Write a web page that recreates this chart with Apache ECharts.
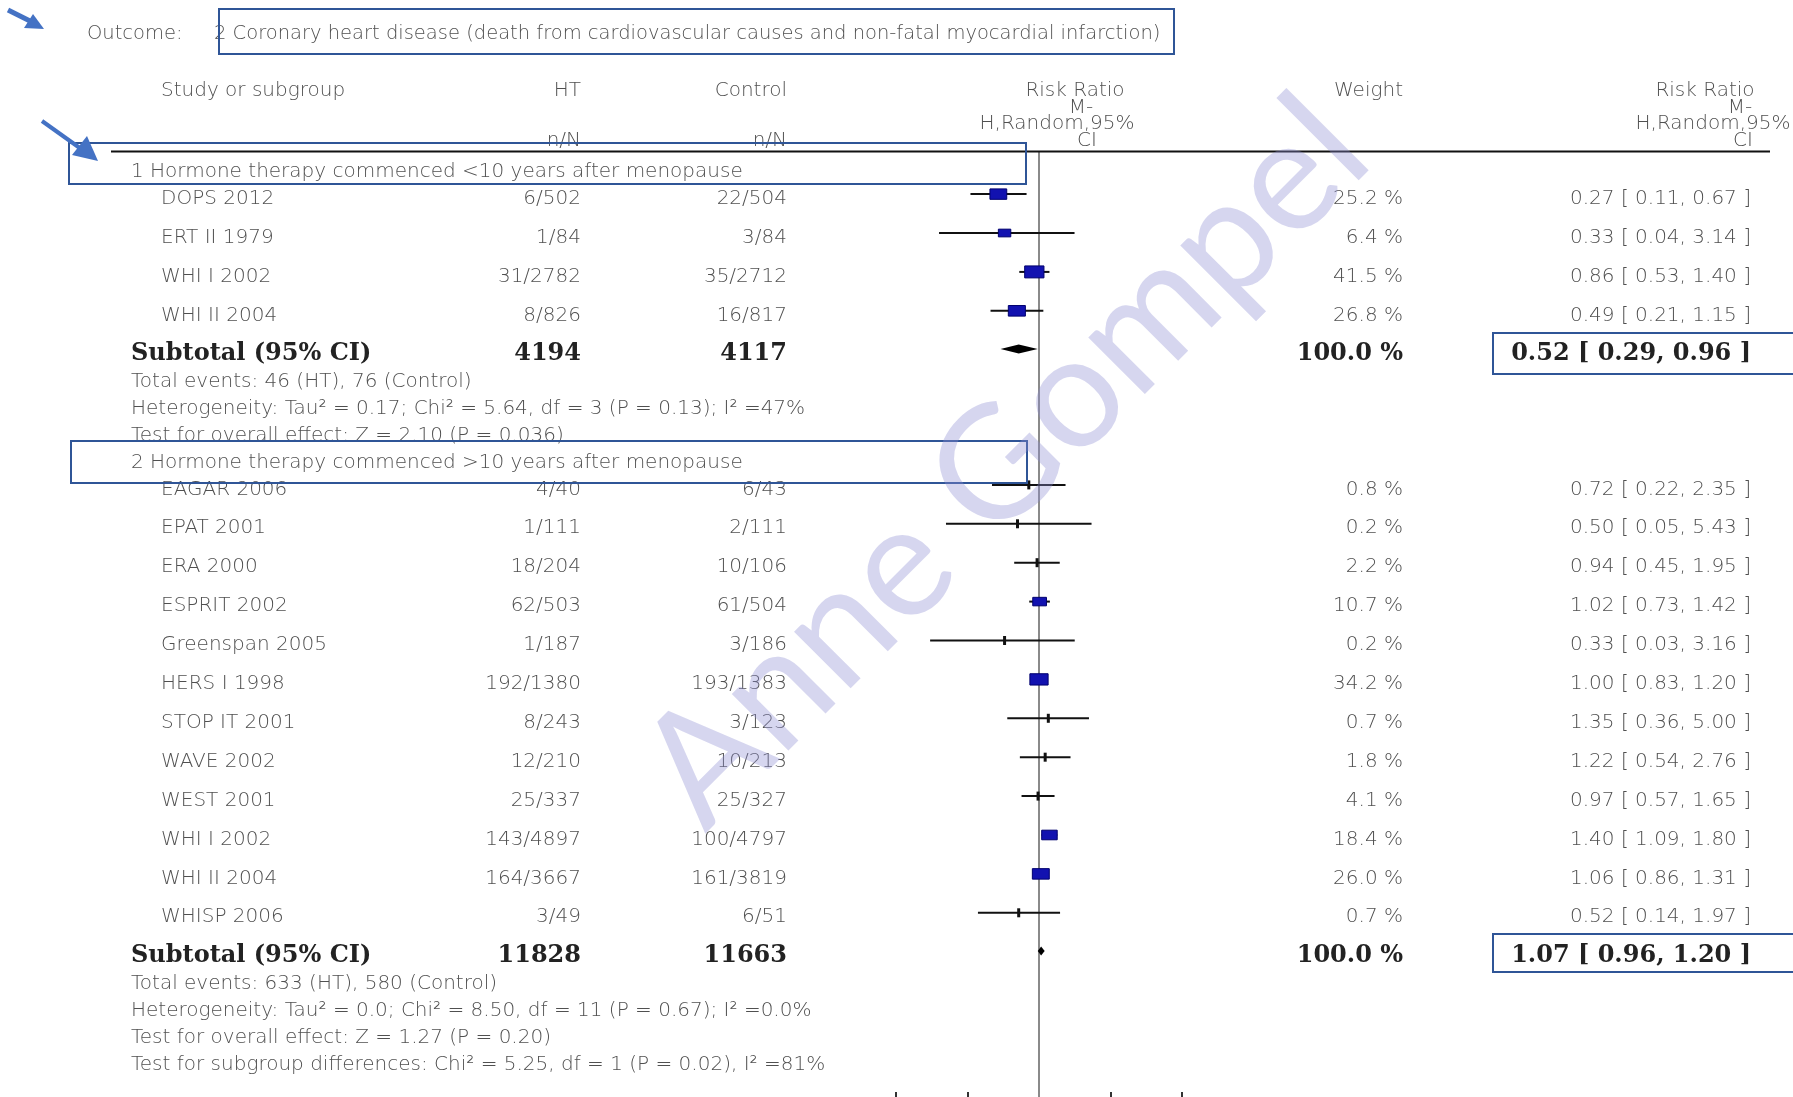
<!DOCTYPE html>
<html>
<head>
<meta charset="utf-8">
<title>Coronary heart disease - forest plot</title>
<script src="https://cdn.jsdelivr.net/npm/echarts@6/dist/echarts.min.js"></script>
<style>
  html, body { margin: 0; padding: 0; background: #fff; }
  #main { width: 1793px; height: 1097px; }
</style>
</head>
<body>
<div id="main"></div>
<script type="text/javascript">
// ---- data ----
var outcomeLabel = 'Outcome:';
var outcomeText = '2 Coronary heart disease (death from cardiovascular causes and non-fatal myocardial infarction)';

var group1Label = '1 Hormone therapy commenced <10 years after menopause';
var studies1 = ['DOPS 2012', 'ERT II 1979', 'WHI I 2002', 'WHI II 2004'];
var ht1 = ['6/502', '1/84', '31/2782', '8/826'];
var ctl1 = ['22/504', '3/84', '35/2712', '16/817'];
var weight1 = [25.2, 6.4, 41.5, 26.8];
var rr1 = [0.27, 0.33, 0.86, 0.49];
var lo1 = [0.11, 0.04, 0.53, 0.21];
var hi1 = [0.67, 3.14, 1.40, 1.15];
var sub1 = { ht: '4194', ctl: '4117', weight: 100.0, rr: 0.52, lo: 0.29, hi: 0.96 };
var notes1 = [
  'Total events: 46 (HT), 76 (Control)',
  'Heterogeneity: Tau\u00b2 = 0.17; Chi\u00b2 = 5.64, df = 3 (P = 0.13); I\u00b2 =47%',
  'Test for overall effect: Z = 2.10 (P = 0.036)'
];

var group2Label = '2 Hormone therapy commenced >10 years after menopause';
var studies2 = ['EAGAR 2006', 'EPAT 2001', 'ERA 2000', 'ESPRIT 2002', 'Greenspan 2005', 'HERS I 1998',
  'STOP IT 2001', 'WAVE 2002', 'WEST 2001', 'WHI I 2002', 'WHI II 2004', 'WHISP 2006'];
var ht2 = ['4/40', '1/111', '18/204', '62/503', '1/187', '192/1380', '8/243', '12/210', '25/337', '143/4897', '164/3667', '3/49'];
var ctl2 = ['6/43', '2/111', '10/106', '61/504', '3/186', '193/1383', '3/123', '10/213', '25/327', '100/4797', '161/3819', '6/51'];
var weight2 = [0.8, 0.2, 2.2, 10.7, 0.2, 34.2, 0.7, 1.8, 4.1, 18.4, 26.0, 0.7];
var rr2 = [0.72, 0.50, 0.94, 1.02, 0.33, 1.00, 1.35, 1.22, 0.97, 1.40, 1.06, 0.52];
var lo2 = [0.22, 0.05, 0.45, 0.73, 0.03, 0.83, 0.36, 0.54, 0.57, 1.09, 0.86, 0.14];
var hi2 = [2.35, 5.43, 1.95, 1.42, 3.16, 1.20, 5.00, 2.76, 1.65, 1.80, 1.31, 1.97];
var sub2 = { ht: '11828', ctl: '11663', weight: 100.0, rr: 1.07, lo: 0.96, hi: 1.20 };
var notes2 = [
  'Total events: 633 (HT), 580 (Control)',
  'Heterogeneity: Tau\u00b2 = 0.0; Chi\u00b2 = 8.50, df = 11 (P = 0.67); I\u00b2 =0.0%',
  'Test for overall effect: Z = 1.27 (P = 0.20)',
  'Test for subgroup differences: Chi\u00b2 = 5.25, df = 1 (P = 0.02), I\u00b2 =81%'
];

// ---- layout ----
var W = 1793, H = 1097;
var U = 38.9;              // px per study row
var YMAX = H / U;
var X_LEFT = 131, X_STUDY = 161, X_HT = 581, X_CTL = 787, X_WT = 1403, X_RR = 1751;

var SANS = "'DejaVu Sans', sans-serif";
var SERIF = "'DejaVu Serif', serif";
var GREY = '#505050';

var texts = [];        // {x, y, text, align, bold, dy, size}
var studyMarks = [];   // [rr, lo, hi, y, weight]
var diamonds = [];     // [rr, lo, hi, y]

function fmtRR(r, l, h) {
  return r.toFixed(2) + ' [ ' + l.toFixed(2) + ', ' + h.toFixed(2) + ' ]';
}
function addText(x, y, t, align, bold, dy, size) {
  texts.push({
    x: x, y: y, text: t, align: align || 'left', bold: !!bold,
    dy: dy == null ? 4.5 : dy, size: size || (bold ? 24 : 20)
  });
}

// header
addText(87, 31 / U, outcomeLabel, 'left', false, 2.5, 19.5);
addText(214, 31 / U, outcomeText, 'left', false, 2.5, 19.5);
var hy = [88 / U, 105 / U, 121 / U, 138 / U];
addText(X_STUDY, hy[0], 'Study or subgroup', 'left', false, 2.5);
addText(X_HT, hy[0], 'HT', 'right', false, 2.5);
addText(X_CTL, hy[0], 'Control', 'right', false, 2.5);
addText(X_HT, hy[3], 'n/N', 'right', false, 2.5);
addText(X_CTL, hy[3], 'n/N', 'right', false, 2.5);
addText(1075, hy[0], 'Risk Ratio', 'center', false, 2.5);
addText(1081, hy[1], 'M-', 'center', false, 2.5);
addText(1057, hy[2], 'H,Random,95%', 'center', false, 2.5);
addText(1087, hy[3], 'CI', 'center', false, 2.5);
addText(X_WT, hy[0], 'Weight', 'right', false, 2.5);
addText(1705, hy[0], 'Risk Ratio', 'center', false, 2.5);
addText(1740, hy[1], 'M-', 'center', false, 2.5);
addText(1713, hy[2], 'H,Random,95%', 'center', false, 2.5);
addText(1743, hy[3], 'CI', 'center', false, 2.5);
var headerLineY = 151.5 / U;

function layGroup(y, label, names, ht, ctl, wt, rr, lo, hi, sub, notes) {
  addText(X_LEFT, y, label);
  y += 0.69;
  for (var i = 0; i < names.length; i++) {
    addText(X_STUDY, y, names[i]);
    addText(X_HT, y, ht[i], 'right');
    addText(X_CTL, y, ctl[i], 'right');
    addText(X_WT, y, wt[i].toFixed(1) + ' %', 'right');
    addText(X_RR, y, fmtRR(rr[i], lo[i], hi[i]), 'right');
    studyMarks.push([rr[i], lo[i], hi[i], y, wt[i]]);
    if (i < names.length - 1) y += 1;
  }
  y += 0.98;
  addText(X_LEFT, y, 'Subtotal (95% CI)', 'left', true);
  addText(X_HT, y, sub.ht, 'right', true);
  addText(X_CTL, y, sub.ctl, 'right', true);
  addText(X_WT, y, sub.weight.toFixed(1) + ' %', 'right', true);
  addText(X_RR, y, fmtRR(sub.rr, sub.lo, sub.hi), 'right', true);
  diamonds.push([sub.rr, sub.lo, sub.hi, y]);
  y += 0.72;
  for (var j = 0; j < notes.length; j++) {
    addText(X_LEFT, y, notes[j]);
    y += 0.695;
  }
  return y;
}
var yNext = layGroup(4.30, group1Label, studies1, ht1, ctl1, weight1, rr1, lo1, hi1, sub1, notes1);
layGroup(yNext, group2Label, studies2, ht2, ctl2, weight2, rr2, lo2, hi2, sub2, notes2);

var textData = texts.map(function (t, i) { return [t.x, t.y, i]; });

var myChart = echarts.init(document.getElementById('main'));

var BLUE = '#2f5597';
var option = {
  backgroundColor: '#fff',
  animation: false,
  grid: [
    { left: 0, top: 0, width: W, height: H },
    { left: 896, top: 0, width: 286, height: H }
  ],
  xAxis: [
    { gridIndex: 0, type: 'value', min: 0, max: W, show: false },
    {
      gridIndex: 1, type: 'log', logBase: 10, min: 0.01, max: 100, position: 'bottom',
      axisLine: { show: true, onZero: false, lineStyle: { color: 'rgba(0,0,0,0)' } },
      axisTick: { show: true, inside: true, length: 5, lineStyle: { color: '#333', width: 2 } },
      axisLabel: { show: false },
      splitLine: { show: false }
    }
  ],
  yAxis: [
    { gridIndex: 0, type: 'value', min: 0, max: YMAX, inverse: true, show: false },
    { gridIndex: 1, type: 'value', min: 0, max: YMAX, inverse: true, show: false }
  ],
  series: [
    {
      // line of no effect
      type: 'line', xAxisIndex: 1, yAxisIndex: 1, symbol: 'none', silent: true,
      data: [[1, headerLineY], [1, YMAX]],
      lineStyle: { color: '#8a8a8a', width: 2 }, z: 1
    },
    {
      // header rule
      type: 'line', xAxisIndex: 0, yAxisIndex: 0, symbol: 'none', silent: true,
      data: [[111, headerLineY], [1770, headerLineY]],
      lineStyle: { color: '#111', width: 2 }, z: 2
    },
    {
      type: 'custom', xAxisIndex: 0, yAxisIndex: 0, silent: true,
      data: textData,
      renderItem: function (params, api) {
        var t = texts[api.value(2)];
        var p = api.coord([api.value(0), api.value(1)]);
        return {
          type: 'text', x: p[0], y: p[1] + t.dy,
          style: {
            text: t.text,
            fill: t.bold ? '#222' : GREY,
            fontFamily: t.bold ? SERIF : SANS,
            fontWeight: t.bold ? 'bold' : 200,
            fontSize: t.size,
            align: t.align,
            verticalAlign: 'middle'
          }
        };
      },
      z: 3
    },
    {
      type: 'custom', xAxisIndex: 1, yAxisIndex: 1, silent: true,
      data: studyMarks,
      renderItem: function (params, api) {
        var y = api.value(3);
        var a = api.coord([api.value(1), y]);
        var b = api.coord([api.value(2), y]);
        var c = api.coord([api.value(0), y]);
        var w = api.value(4);
        var kids = [{
          type: 'line',
          shape: { x1: a[0], y1: a[1], x2: b[0], y2: b[1] },
          style: { stroke: '#111', lineWidth: 2 }
        }];
        if (w >= 5) {
          var bw = 8 + 1.75 * Math.sqrt(w), bh = bw * 0.62;
          kids.push({
            type: 'rect',
            shape: { x: c[0] - bw / 2, y: c[1] - bh / 2, width: bw, height: bh },
            style: { fill: '#1212b0', stroke: '#00006e', lineWidth: 1 }
          });
        } else {
          kids.push({
            type: 'rect',
            shape: { x: c[0] - 1.5, y: c[1] - 4.5, width: 3, height: 9 },
            style: { fill: '#111' }
          });
        }
        return { type: 'group', children: kids };
      },
      z: 4
    },
    {
      type: 'custom', xAxisIndex: 1, yAxisIndex: 1, silent: true,
      data: diamonds,
      renderItem: function (params, api) {
        var y = api.value(3);
        var a = api.coord([api.value(1), y]);
        var b = api.coord([api.value(2), y]);
        var c = api.coord([api.value(0), y]);
        var h = 4.5;
        return {
          type: 'polygon',
          shape: { points: [[a[0], a[1]], [c[0], c[1] - h], [b[0], b[1]], [c[0], c[1] + h]] },
          style: { fill: '#000' }
        };
      },
      z: 4
    }
  ],
  graphic: [
    // annotation boxes
    { type: 'rect', shape: { x: 219, y: 9, width: 955, height: 45 }, style: { fill: 'none', stroke: BLUE, lineWidth: 2 }, z: 10 },
    { type: 'rect', shape: { x: 69, y: 143, width: 957, height: 41 }, style: { fill: 'none', stroke: BLUE, lineWidth: 2 }, z: 10 },
    { type: 'rect', shape: { x: 71, y: 441, width: 956, height: 42 }, style: { fill: 'none', stroke: BLUE, lineWidth: 2 }, z: 10 },
    { type: 'rect', shape: { x: 1493, y: 333, width: 320, height: 41 }, style: { fill: 'none', stroke: BLUE, lineWidth: 2 }, z: 10 },
    { type: 'rect', shape: { x: 1493, y: 934, width: 320, height: 38 }, style: { fill: 'none', stroke: BLUE, lineWidth: 2 }, z: 10 },
    // arrows
    { type: 'line', shape: { x1: 8, y1: 10, x2: 30, y2: 21 }, style: { stroke: '#4472c4', lineWidth: 5 }, z: 10 },
    { type: 'polygon', shape: { points: [[44, 29], [24, 28], [33, 14]] }, style: { fill: '#4472c4' }, z: 10 },
    { type: 'line', shape: { x1: 42, y1: 121, x2: 84, y2: 151 }, style: { stroke: '#4472c4', lineWidth: 4 }, z: 10 },
    { type: 'polygon', shape: { points: [[98, 161], [72, 155], [87, 136]] }, style: { fill: '#4472c4' }, z: 10 },
    // watermark
    {
      type: 'text', x: 1005, y: 462, rotation: Math.PI / 4, z: 20, silent: true,
      style: {
        text: 'Anne Gompel', fontFamily: "'Lato', sans-serif", fontSize: 158,
        fill: 'rgba(140,142,212,0.36)', align: 'center', verticalAlign: 'middle'
      }
    }
  ]
};
myChart.setOption(option);
</script>
</body>
</html>
